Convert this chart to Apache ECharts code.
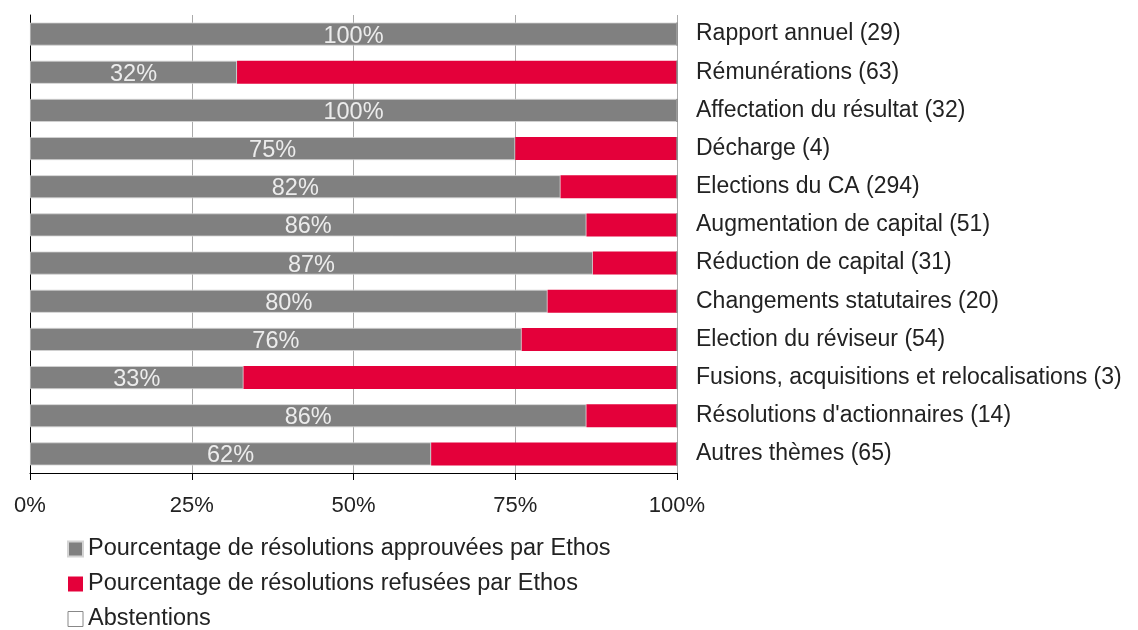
<!DOCTYPE html>
<html>
<head>
<meta charset="utf-8">
<script src="https://cdn.jsdelivr.net/npm/echarts@6/dist/echarts.min.js"></script>
<style>
  html, body { margin: 0; padding: 0; background: #fff; }
  #charts { width: 1138px; height: 630px; }
</style>
</head>
<body>
<div id="charts"></div>
<script>
const categories = [
  "Rapport annuel (29)",
  "Rémunérations (63)",
  "Affectation du résultat (32)",
  "Décharge (4)",
  "Elections du CA (294)",
  "Augmentation de capital (51)",
  "Réduction de capital (31)",
  "Changements statutaires (20)",
  "Election du réviseur (54)",
  "Fusions, acquisitions et relocalisations (3)",
  "Résolutions d'actionnaires (14)",
  "Autres thèmes (65)"
];
const approved = [100, 32, 100, 75, 82, 86, 87, 80, 76, 33, 86, 62];
const refused = [0, 68, 0, 25, 18, 14, 13, 20, 24, 67, 14, 38];
const abstentions = [0, 0, 0, 0, 0, 0, 0, 0, 0, 0, 0, 0];
const xTicks = [0, 25, 50, 75, 100];

const FONT = "'Liberation Sans', Arial, sans-serif";

const chart = echarts.init(document.getElementById("charts"));

const option = {
  animation: false,
  textStyle: { fontFamily: FONT },
  grid: { left: 30, right: 461, top: 15, bottom: 157, containLabel: false },
  legend: {
    orient: "vertical",
    left: 67,
    top: 536,
    height: 120,
    padding: 0,
    itemWidth: 15,
    itemHeight: 15,
    itemGap: 9,
    icon: "rect",
    textStyle: { fontSize: 23.5, lineHeight: 26, color: "#222", fontFamily: FONT },
    data: [
      "Pourcentage de résolutions approuvées par Ethos",
      "Pourcentage de résolutions refusées par Ethos",
      { name: "Abstentions", itemStyle: { color: "#fff", borderColor: "#888", borderWidth: 1 } }
    ]
  },
  xAxis: {
    type: "value",
    min: 0,
    max: 100,
    interval: 25,
    axisLine: { show: true, lineStyle: { color: "#000", width: 1 } },
    axisTick: { show: true, length: 7, lineStyle: { color: "#000" } },
    axisLabel: {
      formatter: v => xTicks.includes(v) ? v + "%" : "",
      fontSize: 22,
      color: "#222",
      margin: 22
    },
    splitLine: { show: true, lineStyle: { color: "#aaa", width: 1 } }
  },
  yAxis: {
    type: "category",
    inverse: true,
    data: categories,
    position: "left",
    axisLine: { show: true, lineStyle: { color: "#000", width: 1 } },
    axisTick: { show: false },
    axisLabel: {
      align: "left",
      margin: -666,
      fontSize: 23,
      color: "#222"
    }
  },
  series: [
    {
      name: "Pourcentage de résolutions approuvées par Ethos",
      type: "bar",
      stack: "total",
      barWidth: 23,
      data: approved,
      itemStyle: { color: "#808080", borderColor: "#d4d4d4", borderWidth: 0.8 },
      label: {
        show: true,
        position: "inside",
        formatter: p => p.value + "%",
        fontSize: 23.5,
        color: "#ececec",
        offset: [0, 2]
      }
    },
    {
      name: "Pourcentage de résolutions refusées par Ethos",
      type: "bar",
      stack: "total",
      barWidth: 23,
      data: refused,
      itemStyle: { color: "#e4003a" }
    },
    {
      name: "Abstentions",
      type: "bar",
      stack: "total",
      barWidth: 23,
      data: abstentions,
      itemStyle: { color: "#fff", borderColor: "#888", borderWidth: 1 }
    }
  ]
};

chart.setOption(option);
</script>
</body>
</html>
